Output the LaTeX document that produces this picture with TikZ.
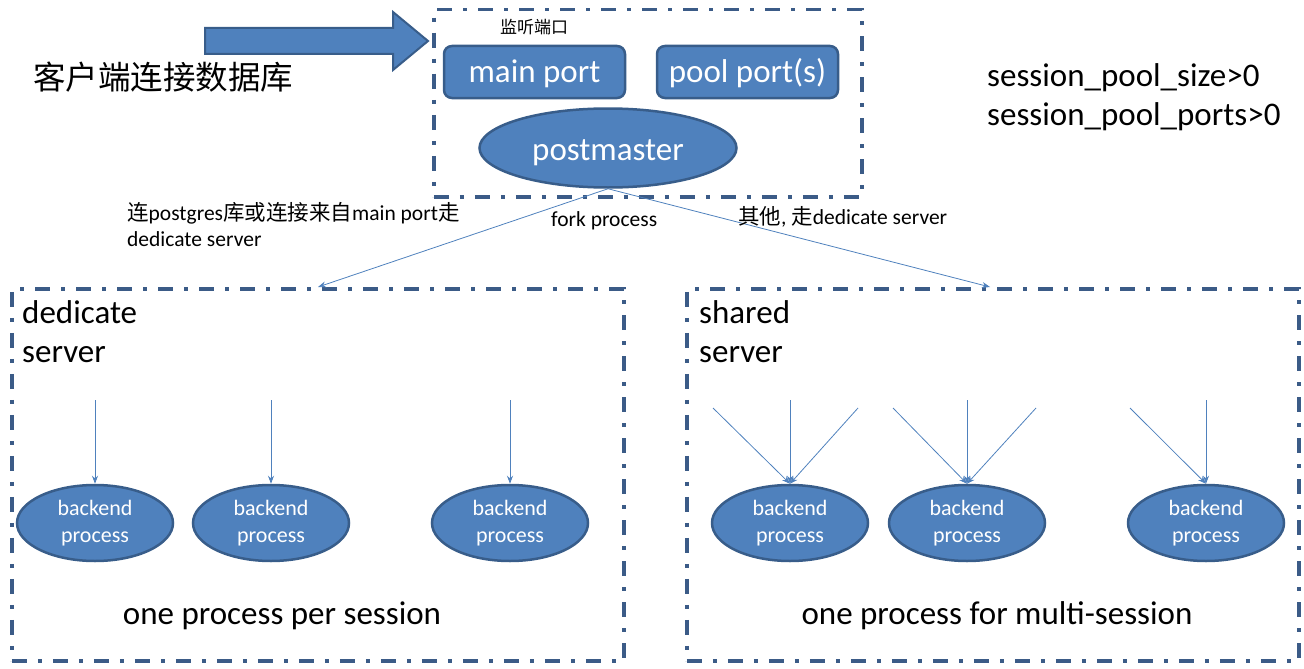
\documentclass[tikz,border=0pt]{standalone}
\usepackage{fontspec}
\setmainfont{Carlito}
\newfontfamily\cjk{Noto Sans CJK SC}
\usetikzlibrary{arrows.meta,shapes.geometric}
\definecolor{fillb}{HTML}{4F81BD}
\definecolor{edgeb}{HTML}{385D8A}
\definecolor{boxb}{HTML}{3B5B87}
\tikzset{
  groupbox/.style={draw=boxb, line width=3.5pt, dash pattern=on 15pt off 11pt on 4pt off 11pt, inner sep=0, anchor=north west},
  port/.style={rectangle, rounded corners=8pt, draw=edgeb, line width=2.5pt, fill=fillb, text=white, font=\fontsize{33}{35}\selectfont, minimum width=181pt, minimum height=52pt, inner sep=0, text height=22pt, text depth=0pt},
  proc/.style={ellipse, draw=edgeb, line width=2.5pt, fill=fillb, text=white, minimum width=156pt, minimum height=76pt, inner sep=0, font=\fontsize{22}{27}\selectfont, align=center},
  link/.style={draw=fillb, line width=0.8pt, -{Stealth[length=8pt,width=6pt]}},
  lbl/.style={inner sep=0, anchor=west, font=\fontsize{21.5}{26}\selectfont, align=left},
  big/.style={inner sep=0, anchor=west, font=\fontsize{33}{39}\selectfont, align=left}
}
\begin{document}
\begin{tikzpicture}[x=1pt,y=-1pt]
\useasboundingbox (0,0) rectangle (1304,669);
% block arrow
\draw[fill=fillb, draw=edgeb, line width=2pt] (205,28) -- (393,28) -- (393,12) -- (428,41) -- (393,70) -- (393,54) -- (205,54) -- cycle;
\node[inner sep=0, anchor=west, font=\cjk\fontsize{32.5}{34}\selectfont] (client) at (33,77) {客户端连接数据库};
% listening box
\node[groupbox, minimum width=428pt, minimum height=187pt] (top) at (432,8) {};
\node[inner sep=0, font=\cjk\fontsize{17}{20}\selectfont] (listen) at (534,27) {监听端口};
\node[port] (main) at (534.5,72) {main port};
\node[port] (pool) at (747.5,72) {pool port(s)};
\node[proc, minimum width=257pt, minimum height=79pt, font=\fontsize{33}{35}\selectfont, text height=25pt, text depth=0pt] (pm) at (608,148) {postmaster};
\node[big] (params) at (987,97) {session\_pool\_size>0\\session\_pool\_ports>0};
% server boxes
\node[groupbox, minimum width=612pt, minimum height=372pt] (ded) at (10,287) {};
\node[groupbox, minimum width=612pt, minimum height=372pt] (shr) at (685,287) {};
\coordinate (dedin) at (318,287);
\coordinate (shrin) at (990,287);
\draw[link] (pm.south) -- (dedin);
\draw[link] (pm.south) -- (shrin);
\node[lbl] (lbl1) at (127,225) {{\cjk 连}postgres{\cjk 库或连接来自}main port{\cjk 走}\\dedicate server};
\node[lbl] (lbl2) at (551,221) {fork process};
\node[lbl] (lbl3) at (738,217) {{\cjk 其他}, {\cjk 走}dedicate server};
\node[big] (dedt) at (22,332) {dedicate\\server};
\node[big] (shrt) at (699,332) {shared\\server};
% backends
\node[proc] (b1) at (95,523) {backend\\process};
\node[proc] (b2) at (271,523) {backend\\process};
\node[proc] (b3) at (510,523) {backend\\process};
\node[proc] (b4) at (790,523) {backend\\process};
\node[proc] (b5) at (967,523) {backend\\process};
\node[proc] (b6) at (1206,523) {backend\\process};
\foreach \c/\n in {95/b1,271/b2,510/b3}{
  \coordinate (s\n) at (\c,400);
  \draw[link] (s\n) -- (\n.north);
}
\foreach \a/\b/\c/\n in {713/790/858/b4,893/967/1036/b5}{
  \coordinate (l\n) at (\a,408);
  \coordinate (m\n) at (\b,400);
  \coordinate (r\n) at (\c,408);
  \draw[link] (l\n) -- (\n.north);
  \draw[link] (m\n) -- (\n.north);
  \draw[link] (r\n) -- (\n.north);
}
\coordinate (lb6) at (1130,408);
\coordinate (mb6) at (1206,400);
\draw[link] (lb6) -- (b6.north);
\draw[link] (mb6) -- (b6.north);
\node[inner sep=0, font=\fontsize{33}{35}\selectfont] (per) at (282,616) {one process per session};
\node[inner sep=0, font=\fontsize{33}{35}\selectfont] (multi) at (997,616) {one process for multi-session};
\end{tikzpicture}
\end{document}
